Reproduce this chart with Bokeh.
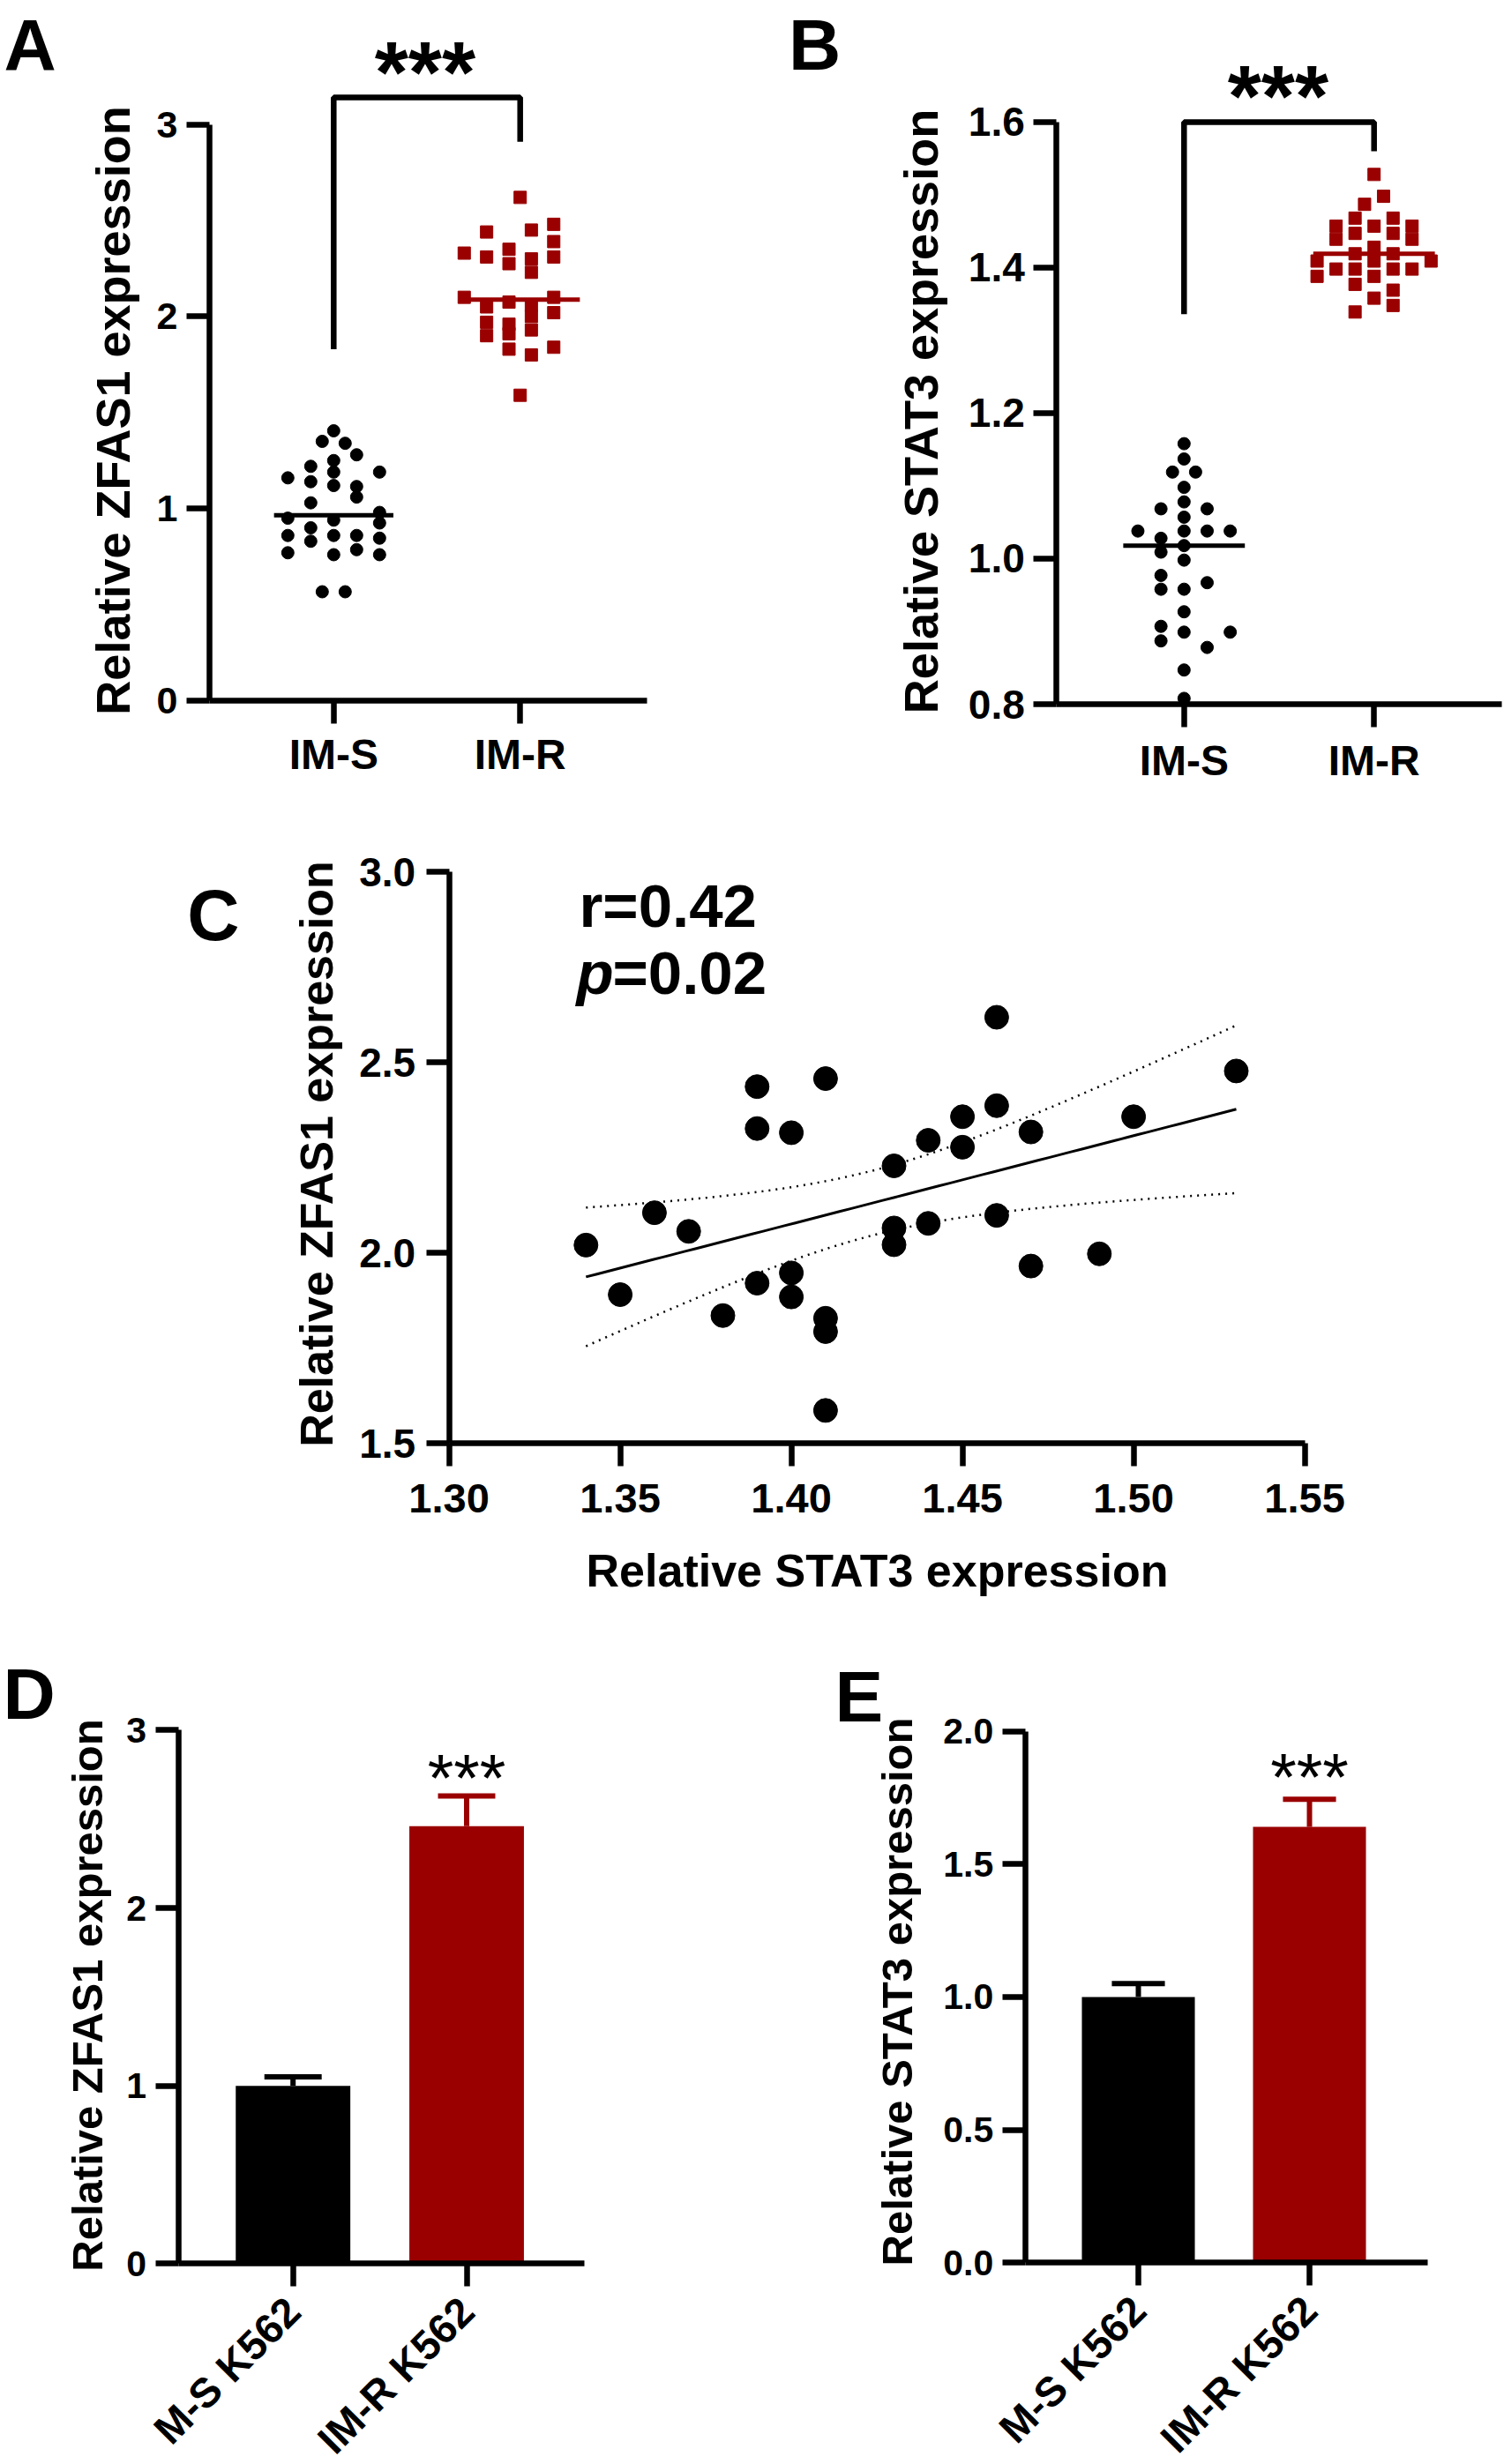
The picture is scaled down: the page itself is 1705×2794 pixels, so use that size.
import math
import numpy as np
from bokeh.plotting import figure
from bokeh.layouts import column, row
from bokeh.models import FixedTicker, Label, Range1d, NumeralTickFormatter
from bokeh.embed import file_html
from bokeh.resources import INLINE

FONT = "Liberation Sans"
RED = "#9A0000"
LW = 6.5

# ---------------- data ----------------
groups = ["IM-S", "IM-R"]
cells = ["M-S K562", "IM-R K562"]

# Panel A: ZFAS1 (values, beeswarm lane)
a_s_vals = [1.405, 1.35, 1.34, 1.28, 1.25, 1.22, 1.19, 1.19, 1.16, 1.14, 1.12, 1.115, 1.06, 1.03, 0.98,
            0.95, 0.94, 0.925, 0.90, 0.86, 0.86, 0.86, 0.846, 0.83, 0.786, 0.77, 0.76, 0.76, 0.567, 0.567]
a_s_lane = [0, -0.5, 0.5, 1, 0, -1, 2, 0, -2, -1, 0, 1, 1, -1, 2,
            -2, 0, 2, -1, -2, 0, 1, 2, -1, 1, -2, 0, 2, -0.5, 0.5]
a_r_vals = [2.62, 2.48, 2.45, 2.44, 2.39, 2.35, 2.33, 2.31, 2.31, 2.30, 2.275, 2.23, 2.10, 2.10,
            2.075, 2.06, 2.05, 2.02, 2.00, 1.97, 1.96, 1.93, 1.91, 1.90, 1.84, 1.83, 1.80, 1.59]
a_r_lane = [0, 1.5, 0.5, -1.5, 1.5, -0.5, -2.5, -1.5, 1.5, 0.5, -0.5, 0.5, -2.5, 1.5,
            -0.5, 0.5, -1.5, 1.5, 0.5, -1.5, -0.5, 0.5, -0.5, -1.5, 1.5, -0.5, 0.5, 0]

# Panel B: STAT3
b_s_vals = [1.158, 1.137, 1.119, 1.119, 1.098, 1.078, 1.0685, 1.0685, 1.057, 1.038, 1.038, 1.038, 1.038,
            1.028, 1.018, 1.009, 0.998, 0.977, 0.967, 0.958, 0.958, 0.927, 0.907, 0.899, 0.899, 0.887,
            0.878, 0.847, 0.808]
b_s_lane = [0, 0, -0.5, 0.5, 0, 0, -1, 1, 0, -2, 0, 1, 2,
            -1, 0, -1, 0, -1, 1, -1, 0, 0, -1, 0, 2, -1,
            1, 0, 0]
b_r_vals = [1.528, 1.498, 1.487, 1.468, 1.468, 1.457, 1.457, 1.457, 1.447, 1.447, 1.439, 1.439, 1.428,
            1.419, 1.419, 1.409, 1.409, 1.409, 1.398, 1.398, 1.398, 1.398, 1.388, 1.388, 1.377, 1.369,
            1.358, 1.348, 1.339]
b_r_lane = [0, 0.5, -0.5, -1, 1, -2, 2, 0, -1, 1, -2, 2, 0,
            -1, 1, -3, 3, 0, -2, 2, -1, 1, -3, 0, -1, 1,
            0, 1, -1]

# Panel C: correlation
c_stat3 = [1.34, 1.35, 1.36, 1.37, 1.38, 1.39, 1.39, 1.39, 1.40, 1.40, 1.40, 1.41, 1.41, 1.41, 1.41,
           1.43, 1.43, 1.43, 1.44, 1.44, 1.45, 1.45, 1.46, 1.46, 1.46, 1.47, 1.47, 1.49, 1.50, 1.53]
c_zfas1 = [2.02, 1.89, 2.105, 2.056, 1.835, 2.436, 2.326, 1.92, 2.315, 1.947, 1.884, 2.457, 1.828, 1.793,
           1.586, 2.228, 2.065, 2.021, 2.295, 2.077, 2.357, 2.277, 2.618, 2.386, 2.098, 2.317, 1.965,
           1.997, 2.357, 2.477]
c_pvalue = "0.02"

# Panels D/E: bar means and SD
d_mean = [1.0, 2.46]
d_sd = [0.05, 0.17]
e_mean = [1.0, 1.64]
e_sd = [0.05, 0.104]


# ---------------- helpers ----------------
class Panel:
    """Figure whose frame fills the whole figure; axes are pinned with fixed_location."""

    def __init__(self, w, h, x0_px, x0_val, ux, y0_px, y0_val, uy):
        self.x0_px, self.x0_val, self.ux = x0_px, x0_val, ux
        self.y0_px, self.y0_val, self.uy = y0_px, y0_val, uy
        p = figure(width=w, height=h,
                   x_range=Range1d(self.dx(0), self.dx(w)), y_range=Range1d(self.dy(h), self.dy(0)),
                   output_backend="svg", toolbar_location=None,
                   min_border_left=0, min_border_right=0, min_border_top=0, min_border_bottom=0)
        p.outline_line_color = None
        p.xgrid.visible = False
        p.ygrid.visible = False
        p.background_fill_color = "white"
        p.border_fill_color = "white"
        self.p = p

    def dx(self, px):
        return self.x0_val + (px - self.x0_px) / self.ux

    def dy(self, py):
        return self.y0_val + (self.y0_px - py) / self.uy


def style_axis(ax, tick_px, tick_standoff=10):
    ax.axis_line_width = LW
    ax.axis_line_color = "black"
    ax.major_tick_line_width = LW
    ax.major_tick_line_color = "black"
    ax.major_tick_out = 26
    ax.major_tick_in = 0
    ax.minor_tick_line_color = None
    ax.major_label_text_font = FONT
    ax.major_label_text_font_style = "bold"
    ax.major_label_text_font_size = f"{tick_px}px"
    ax.major_label_text_color = "black"
    ax.major_label_standoff = tick_standoff


BASE_SHIFT = 0.32  # Label alphabetic baseline lands this many em below the anchor


def text(P, txt, px, py_base, size, style="bold", align="left", angle=0.0):
    """Place text so that its baseline is at pixel (px, py_base) of the panel."""
    d = BASE_SHIFT * size
    if angle:
        ax, ay = px - d, py_base
    else:
        ax, ay = px, py_base - d
    P.p.add_layout(Label(x=P.dx(ax), y=P.dy(ay), text=txt, text_font=FONT, text_font_style=style,
                         text_font_size=f"{size}px", text_color="black", text_align=align,
                         text_baseline="alphabetic", angle=angle))


def stars(p, x, y, size, style):
    p.add_layout(Label(x=x, y=y, text="***", text_font=FONT, text_font_style=style,
                       text_font_size=f"{size}px", text_color="black",
                       text_align="center", text_baseline="alphabetic"))


def dot_panel(p, s_vals, s_lane, s_step, r_vals, r_lane, r_step, hw):
    xs = [0 + l * s_step for l in s_lane]
    xr = [1 + l * r_step for l in r_lane]
    p.scatter(xs, s_vals, marker="circle", size=14, color="black")
    p.scatter(xr, r_vals, marker="square", size=14, color=RED)
    ms, mr = float(np.median(s_vals)), float(np.median(r_vals))
    p.segment(x0=[0 - hw], x1=[0 + hw], y0=[ms], y1=[ms], line_color="black", line_width=5)
    p.segment(x0=[1 - hw], x1=[1 + hw], y0=[mr], y1=[mr], line_color=RED, line_width=5)


def cat_axis(p, labels):
    p.xaxis.ticker = FixedTicker(ticks=[0, 1])
    p.xaxis.major_label_overrides = {0: labels[0], 1: labels[1]}


def pin_axes(P, yaxis_px, xaxis_val, x_right_px, y_bounds):
    p = P.p
    p.yaxis.fixed_location = P.dx(yaxis_px)
    p.xaxis.fixed_location = xaxis_val
    p.yaxis.bounds = y_bounds
    p.xaxis.bounds = (P.dx(yaxis_px), P.dx(x_right_px))


# ---------------- Panel A (page x 0-850, y 0-900) ----------------
PA = Panel(850, 900, 377.8, 0, 211.4, 794, 0, 217.8)
pA = PA.p
style_axis(pA.yaxis[0], 43, 10)
style_axis(pA.xaxis[0], 48, 8)
pA.yaxis.ticker = FixedTicker(ticks=[0, 1, 2, 3])
cat_axis(pA, groups)
pin_axes(PA, 237, 0, 733, (0, 3))
dot_panel(pA, a_s_vals, a_s_lane, 0.123, a_r_vals, a_r_lane, 0.12, 0.32)
pA.line(x=[0, 0, 1, 1], y=[1.83, 3.14, 3.14, 2.91], line_color="black", line_width=LW)
stars(pA, 0.49, 3.27, 98, "bold")
text(PA, "Relative ZFAS1 expression", 144.5, 465, 54, align="center", angle=math.pi / 2)
text(PA, "A", 4, 76, 82)

# ---------------- Panel B (page x 850-1704) ----------------
PB = Panel(854, 900, 491.8, 0, 215.4, 798, 0.8, 825.1)
pB = PB.p
style_axis(pB.yaxis[0], 46, 10)
style_axis(pB.xaxis[0], 48, 11)
pB.yaxis.ticker = FixedTicker(ticks=[0.8, 1.0, 1.2, 1.4, 1.6])
pB.yaxis.formatter = NumeralTickFormatter(format="0.0")
cat_axis(pB, groups)
pin_axes(PB, 347.3, 0.8, 852, (0.8, 1.6))
dot_panel(pB, b_s_vals, b_s_lane, 0.1215, b_r_vals, b_r_lane, 0.1, 0.32)
pB.line(x=[0, 0, 1, 1], y=[1.336, 1.6, 1.6, 1.56], line_color="black", line_width=LW)
stars(pB, 0.495, 1.636, 98, "bold")
text(PB, "Relative STAT3 expression", 210.5, 466, 54, align="center", angle=math.pi / 2)
text(PB, "B", 43.6, 76, 82)

# ---------------- Panel C (page y 900-1850) ----------------
PC = Panel(1704, 950, 508.6, 1.30, 3880.0, 736, 1.5, 432.0)
pC = PC.p
style_axis(pC.yaxis[0], 46, 12)
style_axis(pC.xaxis[0], 47, 20)
pC.yaxis.ticker = FixedTicker(ticks=[1.5, 2.0, 2.5, 3.0])
pC.yaxis.formatter = NumeralTickFormatter(format="0.0")
pC.xaxis.ticker = FixedTicker(ticks=[1.30, 1.35, 1.40, 1.45, 1.50, 1.55])
pC.xaxis.formatter = NumeralTickFormatter(format="0.00")
pC.yaxis.fixed_location = 1.30
pC.xaxis.fixed_location = 1.5
pC.yaxis.bounds = (1.5, 3.0)
pC.xaxis.bounds = (1.30, 1.55)

x = np.array(c_stat3)
y = np.array(c_zfas1)
n = len(x)
slope, intercept = np.polyfit(x, y, 1)
resid = y - (slope * x + intercept)
s = math.sqrt(float(np.sum(resid ** 2)) / (n - 2))
sxx = float(np.sum((x - x.mean()) ** 2))
t_crit = 2.048  # t(0.975, df=28)
xf = np.linspace(x.min(), x.max(), 60)
yf = slope * xf + intercept
half = t_crit * s * np.sqrt(1.0 / n + (xf - x.mean()) ** 2 / sxx)
pC.line(xf, yf + half, line_color="black", line_width=2.5, line_dash="2 6")
pC.line(xf, yf - half, line_color="black", line_width=2.5, line_dash="2 6")
pC.line(xf, yf, line_color="black", line_width=3)
pC.scatter(c_stat3, c_zfas1, marker="circle", size=27, color="black")
r = float(np.corrcoef(x, y)[0, 1])
text(PC, f"r={r:.2f}", 656, 149, 69)
text(PC, "p", 653, 225, 69, style="bold italic")
text(PC, "=" + c_pvalue, 694, 225, 69)
text(PC, "Relative ZFAS1 expression", 375, 408, 52, align="center", angle=math.pi / 2)
text(PC, "Relative STAT3 expression", 994, 897, 52, align="center")
text(PC, "C", 211.7, 163, 82)


# ---------------- Panels D / E (page y 1850-2792) ----------------
def bar_panel(p, means, sds, cap_hw):
    cols = ["black", RED]
    p.vbar(x=[0, 1], top=means, width=0.66, bottom=0, color=cols, line_color=None)
    tops = [m + s for m, s in zip(means, sds)]
    p.segment(x0=[0, 1], x1=[0, 1], y0=means, y1=tops, line_color=cols, line_width=6)
    p.segment(x0=[-cap_hw, 1 - cap_hw], x1=[cap_hw, 1 + cap_hw], y0=tops, y1=tops,
              line_color=cols, line_width=6)


PD = Panel(850, 942, 331.7, 0, 196.8, 716.4, 0, 201.7)
pD = PD.p
style_axis(pD.yaxis[0], 41, 10)
style_axis(pD.xaxis[0], 47, 20)
pD.yaxis.ticker = FixedTicker(ticks=[0, 1, 2, 3])
cat_axis(pD, cells)
pD.xaxis.major_label_orientation = math.pi / 4
pin_axes(PD, 201.6, 0, 662.3, (0, 3))
bar_panel(pD, d_mean, d_sd, 0.165)
stars(pD, 1, 2.732, 76, "normal")
text(PD, "Relative ZFAS1 expression", 114, 412, 49, align="center", angle=math.pi / 2)
text(PD, "D", 3, 96, 82)

PE = Panel(854, 942, 440, 0, 194.0, 715.2, 0, 301.3)
pE = PE.p
style_axis(pE.yaxis[0], 41, 10)
style_axis(pE.xaxis[0], 47, 20)
pE.yaxis.ticker = FixedTicker(ticks=[0.0, 0.5, 1.0, 1.5, 2.0])
pE.yaxis.formatter = NumeralTickFormatter(format="0.0")
cat_axis(pE, cells)
pE.xaxis.major_label_orientation = math.pi / 4
pin_axes(PE, 311.8, 0, 767.7, (0, 2))
bar_panel(pE, e_mean, e_sd, 0.155)
stars(pE, 1, 1.831, 76, "normal")
text(PE, "Relative STAT3 expression", 182.6, 408, 49, align="center", angle=math.pi / 2)
text(PE, "E", 96, 99, 82)

layout = column(row(pA, pB), pC, row(pD, pE))
open("out.html", "w").write(file_html(layout, INLINE))
